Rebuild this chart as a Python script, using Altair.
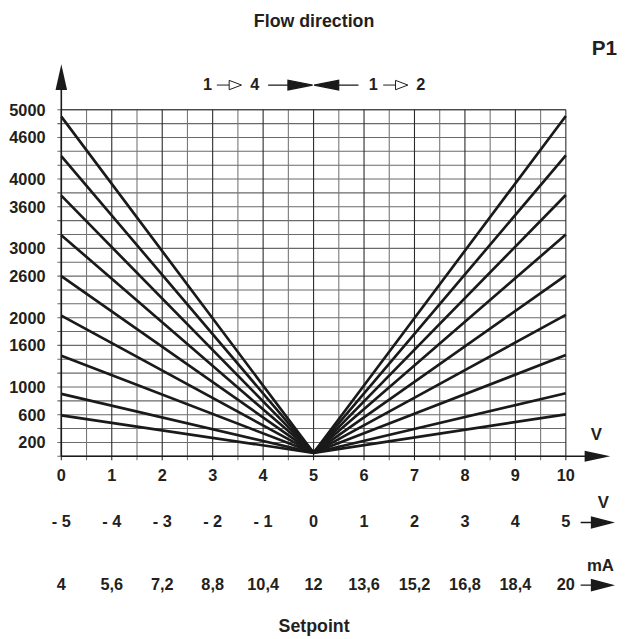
import altair as alt
import pandas as pd

# ---------------- data ----------------
x_ticks = [0, 1, 2, 3, 4, 5, 6, 7, 8, 9, 10]
row1_labels = ["0", "1", "2", "3", "4", "5", "6", "7", "8", "9", "10"]
row2_labels = ["- 5", "- 4", "- 3", "- 2", "- 1", "0", "1", "2", "3", "4", "5"]
row3_labels = ["4", "5,6", "7,2", "8,8", "10,4", "12", "13,6", "15,2", "16,8", "18,4", "20"]

x_major = [0, 1, 2, 3, 4, 5, 6, 7, 8, 9, 10]
x_minor = [0.5, 1.5, 2.5, 3.5, 4.5, 5.5, 6.5, 7.5, 8.5, 9.5]
y_grid = [0, 200, 400, 600, 800, 1000, 1200, 1400, 1600, 1800, 2000, 2200, 2400,
          2600, 2800, 3000, 3200, 3400, 3600, 3800, 4000, 4200, 4400, 4600, 4800, 5000]
y_labels = [200, 600, 1000, 1600, 2000, 2600, 3000, 3600, 4000, 4600, 5000]

# characteristic lines: value at 0 V (left), at the centre (5 V) and at 10 V (right)
left_values = [4900, 4330, 3760, 3190, 2600, 2030, 1450, 900, 590]
right_values = [4910, 4340, 3770, 3200, 2610, 2040, 1460, 910, 605]
centre_x = 5
centre_value = 50

# ---------------- style ----------------
W, H = 511, 351
FONT = "Liberation Sans"
TXT = "#231f20"
INK = "#1a1a1a"

xs = alt.Scale(domain=[0, 10], nice=False, zero=False)
ys = alt.Scale(domain=[0, 5000], nice=False, zero=False)

# ---------------- tables ----------------
rows = []
for i, (l, r) in enumerate(zip(left_values, right_values)):
    rows.append({"s": i, "x": 0, "v": l})
    rows.append({"s": i, "x": centre_x, "v": centre_value})
    rows.append({"s": i, "x": 10, "v": r})
df_lines = pd.DataFrame(rows)

df_xmaj = pd.DataFrame({"x": x_major})
df_xmin = pd.DataFrame({"x": x_minor})
df_yg = pd.DataFrame({"y": y_grid})
df_ytop = pd.DataFrame({"y": [y_grid[-1]]})
df_ylab = pd.DataFrame({"y": y_labels, "t": [str(v) for v in y_labels]})
df_r1 = pd.DataFrame({"x": x_ticks, "t": row1_labels})
df_r2 = pd.DataFrame({"x": x_ticks, "t": row2_labels})
df_r3 = pd.DataFrame({"x": x_ticks, "t": row3_labels})

one = pd.DataFrame({"k": [0]})

# ---------------- layers ----------------
hgrid = alt.Chart(df_yg).mark_rule(color="#6a6a6a", strokeWidth=1.1).encode(
    y=alt.Y("y:Q", scale=ys, axis=None), x=alt.value(-4), x2=alt.value(W))
htop = alt.Chart(df_ytop).mark_rule(color="#333333", strokeWidth=1.2).encode(
    y=alt.Y("y:Q", scale=ys, axis=None), x=alt.value(0), x2=alt.value(W))
vminor = alt.Chart(df_xmin).mark_rule(color="#777777", strokeWidth=1.1).encode(
    x=alt.X("x:Q", scale=xs, axis=None), y=alt.value(0), y2=alt.value(H + 4))
vmajor = alt.Chart(df_xmaj).mark_rule(color="#2a2a2a", strokeWidth=1.1).encode(
    x=alt.X("x:Q", scale=xs, axis=None), y=alt.value(0), y2=alt.value(H + 4))

yaxis = alt.Chart(one).mark_rule(color=INK, strokeWidth=1.6).encode(
    x=alt.value(0), y=alt.value(H), y2=alt.value(-21))
xaxis = alt.Chart(one).mark_rule(color=INK, strokeWidth=1.6).encode(
    y=alt.value(H), x=alt.value(0), x2=alt.value(531))

yarrow = alt.Chart(one).mark_point(shape="M0,-1L0.45,1L-0.45,1Z", filled=True, size=676,
                                   color=INK, opacity=1).encode(
    x=alt.value(0), y=alt.value(-33))
xarrow = alt.Chart(one).mark_point(shape="M1,0L-1,-0.43L-1,0.43Z", filled=True, size=676,
                                   color=INK, opacity=1).encode(
    x=alt.value(543), y=alt.value(H))

lines = alt.Chart(df_lines).mark_line(color=INK, strokeWidth=2.7, strokeJoin="round").encode(
    x=alt.X("x:Q", scale=xs, axis=None),
    y=alt.Y("v:Q", scale=ys, axis=None),
    detail="s:N")

ylab = alt.Chart(df_ylab).mark_text(font=FONT, fontSize=16.5, fontWeight="bold", color=TXT,
                                    align="right", baseline="middle", dy=1).encode(
    y=alt.Y("y:Q", scale=ys, axis=None), x=alt.value(-16), text="t:N")


def row(df, ypix):
    return alt.Chart(df).mark_text(font=FONT, fontSize=16.5, fontWeight="bold", color=TXT,
                                   align="center", baseline="middle").encode(
        x=alt.X("x:Q", scale=xs, axis=None), y=alt.value(ypix), text="t:N")


def label(t, x, y, size=16.5, align="center"):
    return alt.Chart(pd.DataFrame({"t": [t]})).mark_text(
        font=FONT, fontSize=size, fontWeight="bold", color=TXT, align=align,
        baseline="middle").encode(x=alt.value(x), y=alt.value(y), text="t:N")


def symbol(path, x, y, size, filled=True, sw=1.0):
    if filled:
        m = alt.Chart(one).mark_point(shape=path, filled=True, size=size, fill=INK,
                                      stroke=INK, strokeWidth=sw, opacity=1)
    else:
        m = alt.Chart(one).mark_point(shape=path, filled=False, size=size, fill="white",
                                      stroke=INK, strokeWidth=sw, opacity=1)
    return m.encode(x=alt.value(x), y=alt.value(y))


r1 = row(df_r1, 371)
r2 = row(df_r2, 418)
r3 = row(df_r3, 481)

# direction legend row
dy_dir = -25
open_arrow = "M-1,0L0,0M0,-0.38L1,0L0,0.38Z"
right_arrow = "M-1,0L-0.11,0L-0.11,-0.22L1,0L-0.11,0.22L-0.11,0Z"
left_arrow = "M1,0L0.11,0L0.11,-0.22L-1,0L0.11,0.22L0.11,0Z"
row_arrow = "M-1,0L-0.31,0L-0.31,-0.34L1,0L-0.31,0.34L-0.31,0Z"

annotations = [
    label("Flow direction", 256, -89, size=18),
    label("P1", 550, -61, size=21),
    label("1", 148, dy_dir),
    symbol(open_arrow, 170, dy_dir, 625, filled=False, sw=1.0),
    label("4", 196, dy_dir),
    symbol(right_arrow, 232, dy_dir, 2025, filled=True, sw=1.2),
    symbol(left_arrow, 278.5, dy_dir, 2025, filled=True, sw=1.2),
    label("1", 316, dy_dir),
    symbol(open_arrow, 338.5, dy_dir, 625, filled=False, sw=1.0),
    label("2", 364, dy_dir),
    label("V", 542, 329, size=17),
    label("V", 549, 398, size=17),
    symbol(row_arrow, 542, 418, 1024, filled=True, sw=1.4),
    label("mA", 546, 462, size=17),
    symbol(row_arrow, 542, 481.5, 1024, filled=True, sw=1.4),
    label("Setpoint", 256, 524, size=18),
]

chart = alt.layer(
    hgrid, vminor, vmajor, htop, yaxis, xaxis, yarrow, xarrow, lines,
    ylab, r1, r2, r3, *annotations
).properties(
    width=W, height=H,
    padding={"left": 54, "top": 99, "right": 66, "bottom": 180},
    autosize=alt.AutoSizeParams(type="none"),
).configure_view(strokeWidth=0)

chart.save("out.html", embed_options={"renderer": "svg", "actions": False})
